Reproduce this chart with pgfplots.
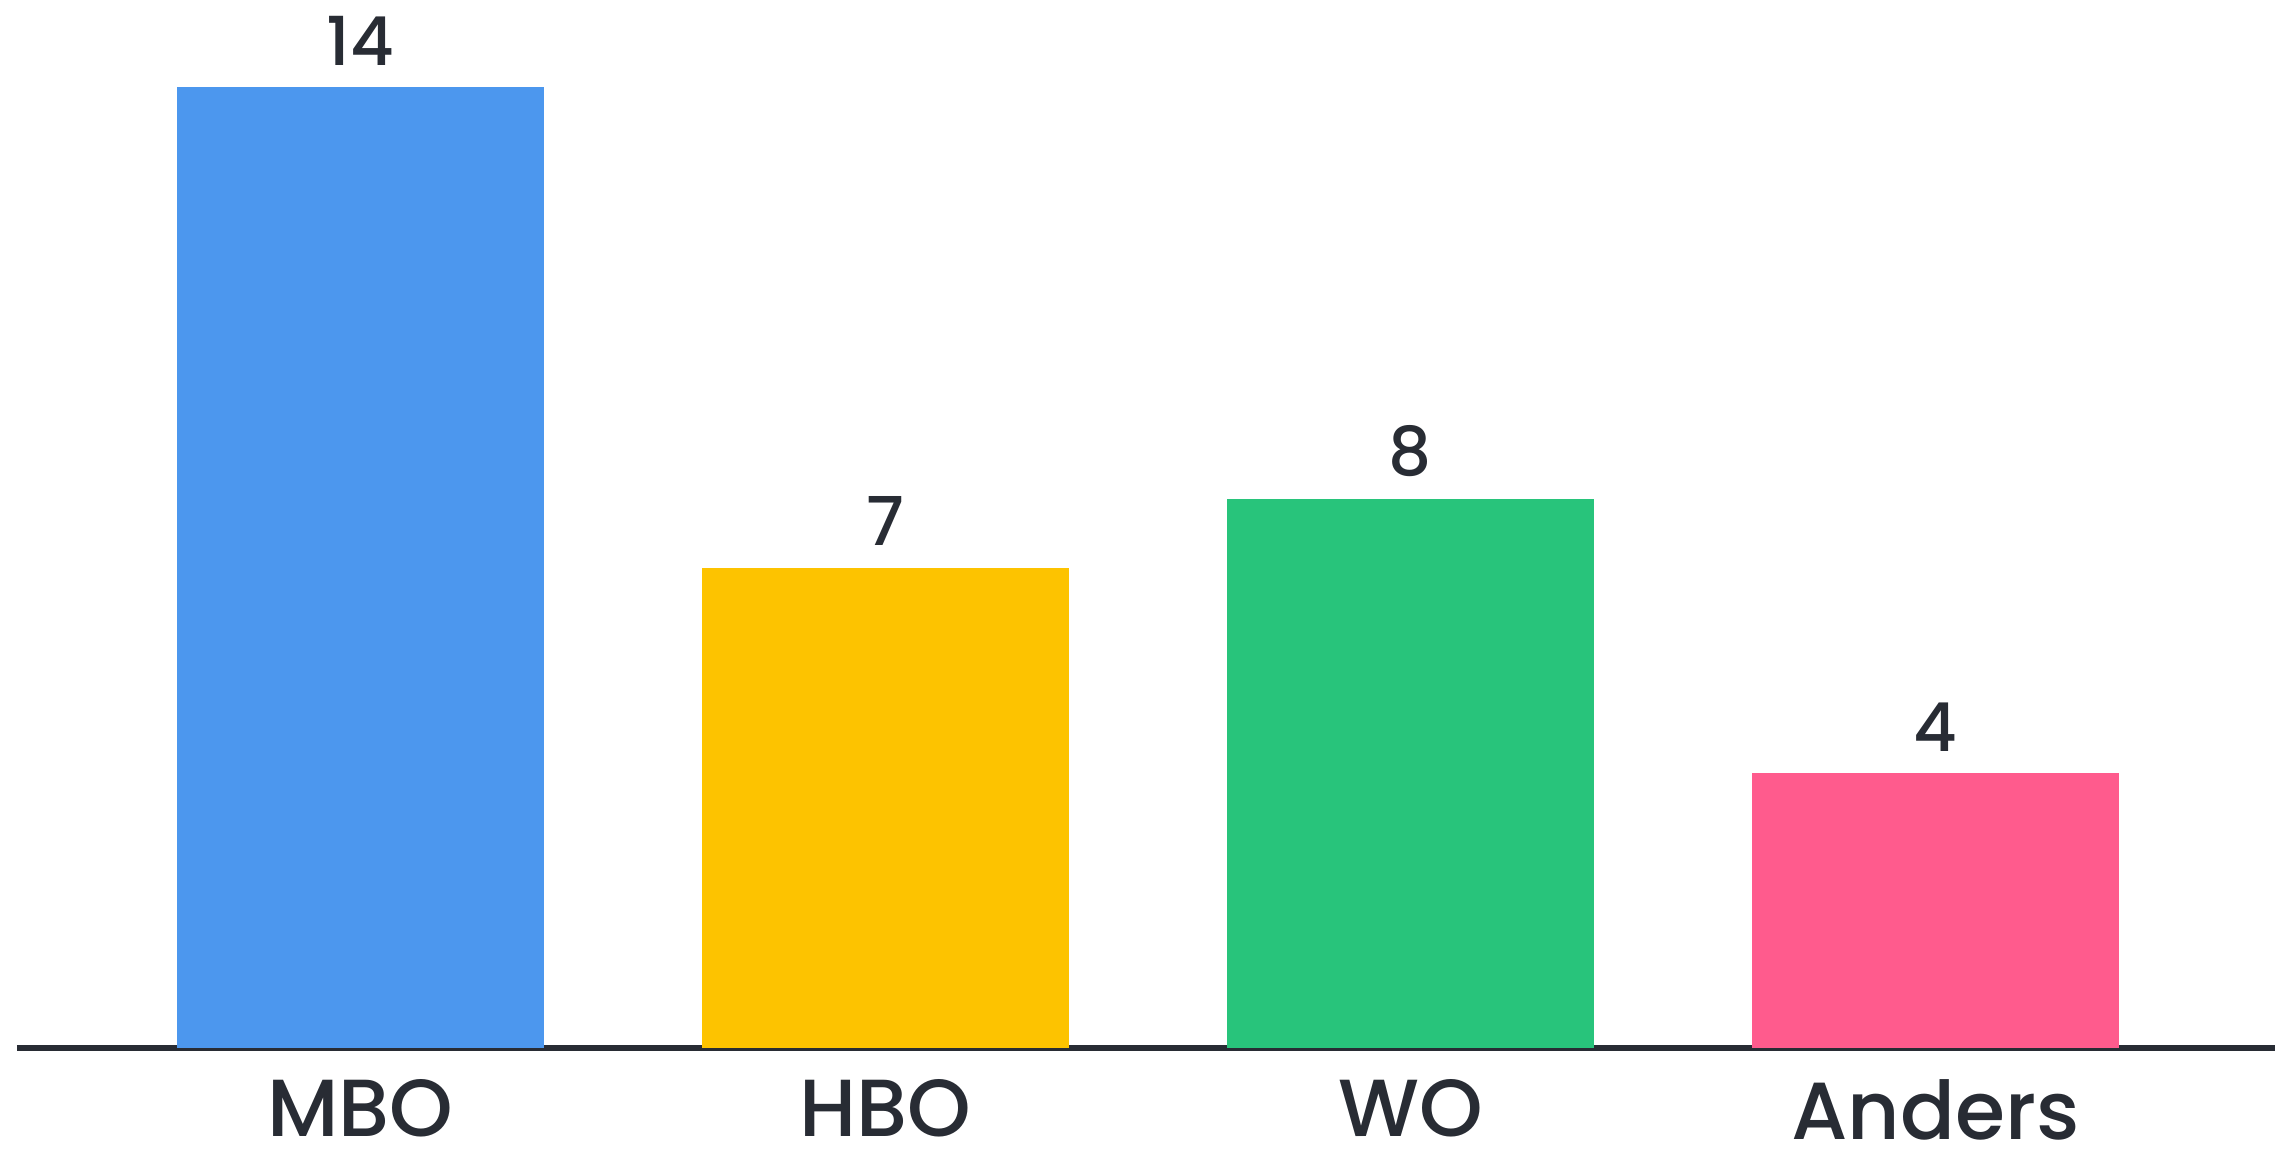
\documentclass[border=0pt]{standalone}
\usepackage{pgfplots}
\pgfplotsset{compat=1.18}
\usepackage{fontspec}
\setmainfont{Poppins Medium}
\definecolor{cblue}{RGB}{76,151,238}
\definecolor{cyellow}{RGB}{253,195,0}
\definecolor{cgreen}{RGB}{40,196,123}
\definecolor{cpink}{RGB}{255,91,141}
\definecolor{cdark}{RGB}{40,44,52}
\begin{document}
\begin{tikzpicture}
\begin{axis}[
  at={(0,0)}, anchor=south west,
  scale only axis=true,
  width=451.6pt, height=209.6pt,
  xmin=-0.654, xmax=3.647,
  ymin=0, ymax=15.27,
  axis x line=bottom,
  axis y line=none,
  axis line style={cdark, line width=1.1pt, -},
  xtick={0,1,2,3},
  xticklabels={MBO,HBO,WO,Anders},
  xtick style={draw=none},
  xticklabel style={font=\fontsize{16.2}{18}\selectfont, text=cdark, anchor=north, inner sep=0pt, yshift=-1.8pt},
  /pgf/number format/assume math mode=true,
  ybar, bar width=0.699, bar shift=0pt,
  nodes near coords,
  every node near coord/.append style={font=\fontsize{13.5}{15}\selectfont, text=cdark, anchor=south, inner sep=0pt, yshift=4.2pt},
  clip=false,
]
\addplot[fill=cblue, draw=none] coordinates {(0,14)};
\addplot[fill=cyellow, draw=none] coordinates {(1,7)};
\addplot[fill=cgreen, draw=none] coordinates {(2,8)};
\addplot[fill=cpink, draw=none] coordinates {(3,4)};
\end{axis}
\pgfresetboundingbox
\useasboundingbox (-3.4pt,-20.6pt) rectangle (451.6pt,209.6pt);
\end{tikzpicture}
\end{document}
